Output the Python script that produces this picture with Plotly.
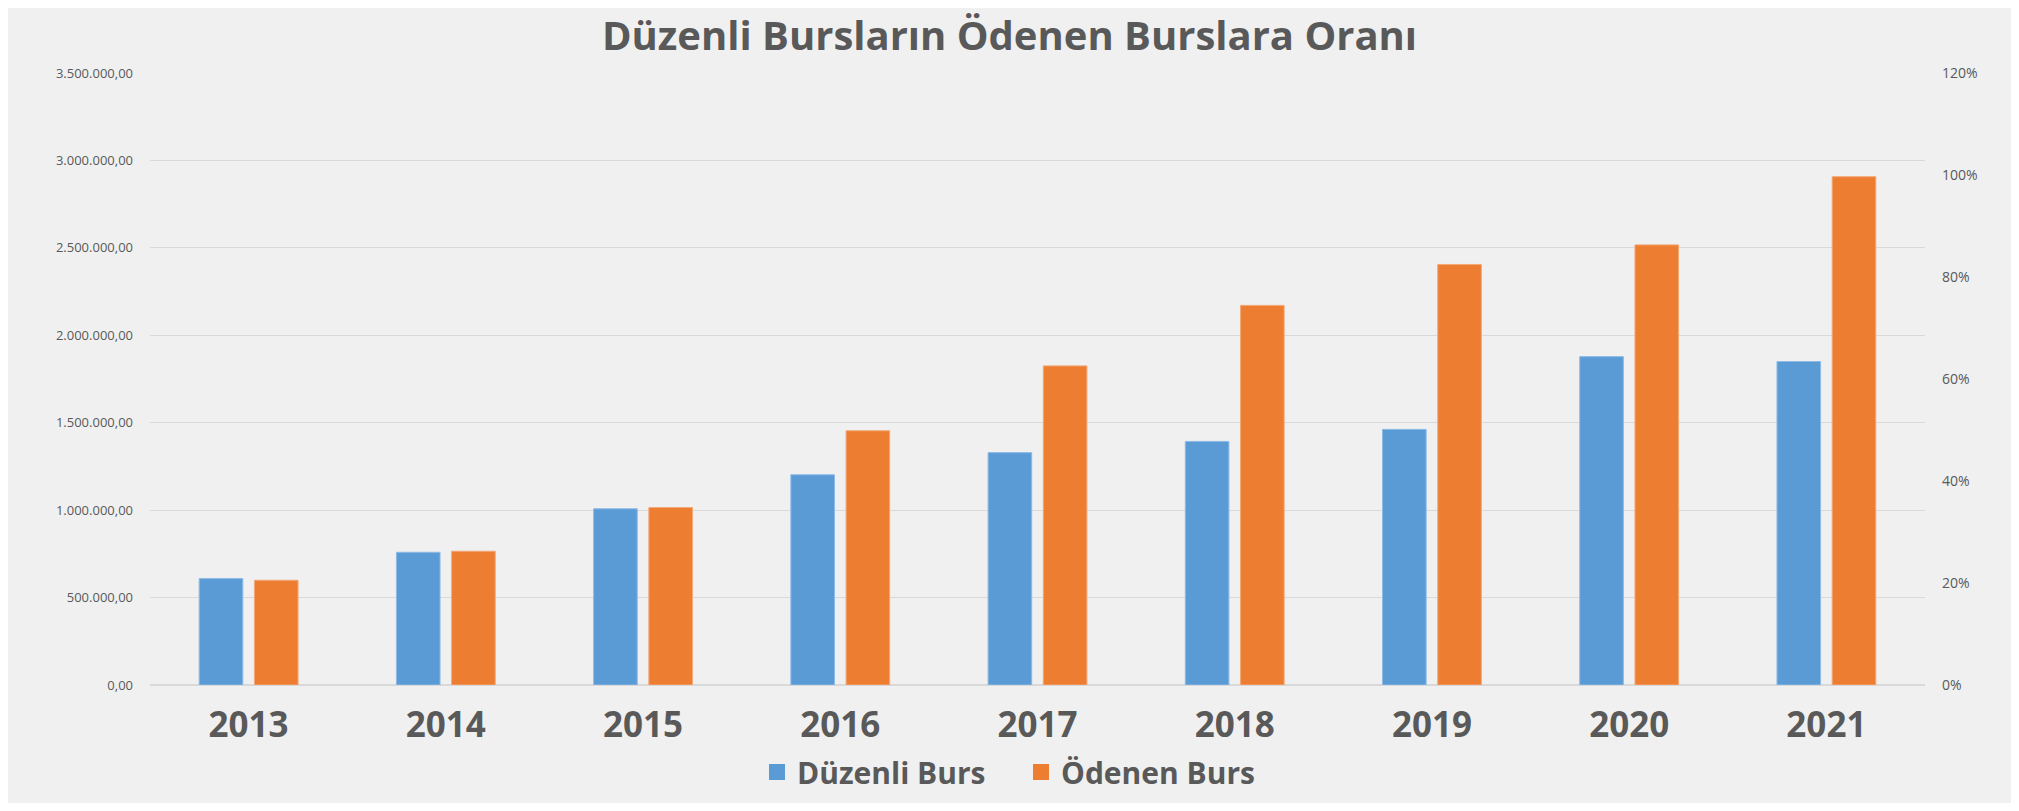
import plotly.graph_objects as go

years = ["2013", "2014", "2015", "2016", "2017", "2018", "2019", "2020", "2021"]
duzenli_burs = [608600, 759000, 1008000, 1202500, 1329000, 1393000, 1462000, 1878000, 1850000]
odenen_burs = [599000, 765000, 1015000, 1454000, 1825000, 2171000, 2405000, 2517000, 2907000]
left_ticks = [0, 500000, 1000000, 1500000, 2000000, 2500000, 3000000, 3500000]
right_ticks = [0, 0.2, 0.4, 0.6, 0.8, 1.0, 1.2]

BLUE = "#5b9bd5"
ORANGE = "#ed7d31"
TEXT = "#595959"
GRID = "#d9d9d9"
FONT = "Open Sans"

# page has an 8px body margin around the figure
OFF = 8
W, H = 2019 - 2 * OFF, 811 - 2 * OFF
PX0, PX1, PY0, PY1 = 150 - OFF, 1925 - OFF, 73 - OFF, 685 - OFF
L, R, T, B = PX0, W - PX1, PY0, H - PY1
pw, ph = PX1 - PX0, PY1 - PY0

fig = go.Figure()
fig.add_trace(go.Bar(
    name="Düzenli Burs", x=years, y=duzenli_burs, showlegend=False,
    marker=dict(color=BLUE, line=dict(color="#8dbbe6", width=1)),
))
fig.add_trace(go.Bar(
    name="Ödenen Burs", x=years, y=odenen_burs, showlegend=False,
    marker=dict(color=ORANGE, line=dict(color="#f3a878", width=1)),
))
# legend entries with larger square swatches
for nm, col in (("Düzenli Burs", BLUE), ("Ödenen Burs", ORANGE)):
    fig.add_trace(go.Scatter(
        name=nm, x=[None], y=[None], mode="markers",
        marker=dict(symbol="square", size=16, color=col),
        hoverinfo="skip",
    ))
# secondary (percentage) axis anchor
fig.add_trace(go.Scatter(
    x=years, y=[None] * len(years), yaxis="y2", mode="lines",
    showlegend=False, hoverinfo="skip",
))

fig.update_layout(
    width=W, height=H, autosize=False,
    margin=dict(l=L, r=R, t=T, b=B, autoexpand=False),
    paper_bgcolor="#f0f0f0",
    plot_bgcolor="#f0f0f0",
    separators=",.",
    barmode="group",
    bargap=0.44,
    bargroupgap=0.21,
    title=dict(
        text="Düzenli Bursların Ödenen Burslara Oranı",
        font=dict(family=FONT, size=40, color=TEXT, weight="bold"),
        x=0.5, xref="container", xanchor="center",
        y=1 - (36 - OFF) / H, yref="container", yanchor="middle",
        automargin=False,
    ),
    xaxis=dict(
        type="category",
        automargin=False,
        showgrid=False,
        showline=False,
        ticks="",
        tickfont=dict(family=FONT, size=35, color=TEXT, weight="bold"),
        ticklabelstandoff=16,
    ),
    yaxis=dict(
        automargin=False,
        range=[0, 3500000],
        tickvals=left_ticks,
        tickformat=",.2f",
        showgrid=True, gridcolor=GRID, gridwidth=1,
        zeroline=True, zerolinecolor=GRID, zerolinewidth=1.5,
        showline=False,
        tickfont=dict(family=FONT, size=13, color=TEXT),
        ticklabelstandoff=16,
    ),
    yaxis2=dict(
        automargin=False,
        overlaying="y", side="right",
        range=[0, 1.2],
        tickvals=right_ticks,
        tickformat=".0%",
        showgrid=False, zeroline=False, showline=False,
        tickfont=dict(family=FONT, size=14, color=TEXT),
        ticklabelstandoff=16,
    ),
    legend=dict(
        orientation="h",
        x=(1021 - OFF - PX0) / pw, xanchor="center",
        y=(PY1 - (772 - OFF)) / ph, yanchor="middle",
        font=dict(family=FONT, size=30, color=TEXT, weight="bold"),
        bgcolor="rgba(0,0,0,0)",
        entrywidth=219,
    ),
    showlegend=True,
)

fig.write_html("out.html")
